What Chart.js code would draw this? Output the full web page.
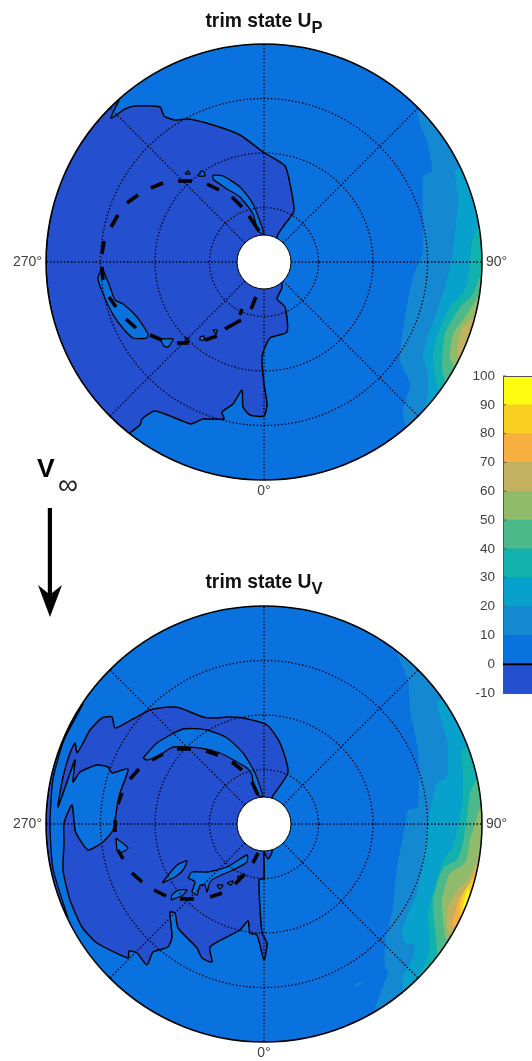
<!DOCTYPE html>
<html>
<head>
<meta charset="utf-8">
<title>trim state</title>
<script src="https://cdn.jsdelivr.net/npm/chart.js@4/dist/chart.umd.min.js"></script>
<style>
    html, body { margin: 0; padding: 0; background: #fff; width: 532px; height: 1061px; overflow: hidden; }
    body { position: relative; font-family: "Liberation Sans", Arial, sans-serif; }
    canvas { position: absolute; }
    .title { position: absolute; left: 0; width: 528px; text-align: center; font-weight: bold; font-size: 19.3px; color: #111; }
    .title sub { font-size: 16.5px; vertical-align: -6px; line-height: 0; }
    #vinf { position: absolute; left: 37px; top: 453px; font-weight: bold; font-size: 26.5px; color: #000; }
    #vinfSub { position: absolute; left: 58px; top: 469px; font-size: 28px; color: #222; }
    #arrow { position: absolute; left: 35px; top: 505px; }
</style>
</head>
<body>
<canvas id="polarUp" style="left:0;top:0"></canvas>
<canvas id="polarDown" style="left:0;top:562px"></canvas>
<canvas id="colorBar" style="left:459px;top:360px"></canvas>
<div class="title" style="top:10px">trim state U<sub>P</sub></div>
<div class="title" style="top:571px">trim state U<sub>V</sub></div>
<div id="vinf">V</div>
<div id="vinfSub">∞</div>
<svg id="arrow" width="30" height="115"><path d="M12.8 3 H17 V88 L27 80 L15 112 L3 80 L12.8 88 Z" fill="#000"/></svg>
<script>
// colour levels of the bar (lower limit, upper limit, colour)
var levelLow = [-10, 0, 10, 20, 30, 40, 50, 60, 70, 80, 90];
var levelHigh = [0, 10, 20, 30, 40, 50, 60, 70, 80, 90, 100];
var levelColors = ['#2450d0', '#0a72de', '#1588d2', '#07a1cb', '#13b1ad', '#4bb98a', '#8fbb6b', '#c2b15f', '#f7b03f', '#f9cf22', '#fefd10'];
var barTicks = [100, 90, 80, 70, 60, 50, 40, 30, 20, 10, 0, -10];

// polar grid: radius rings, spokes, angle labels
var rings = [54.5, 109, 163.5];
var outerRadius = 218;
var holeRadius = 27;
var spokes = [0, 45, 90, 135, 180, 225, 270, 315];
var angleLabels = ['0°', '90°', '270°'];

// contours, x to the right of the centre, y towards 0°
var upNegative = [[-133, 170], [-124, 163], [-122, 157], [-109, 149], [-84, 158], [-73, 162], [-61, 157], [-40, 157], [-42, 150], [-31, 142], [-22, 128], [-21, 145], [-14, 153], [0, 154], [3, 142], [0, 122], [-2, 95], [6, 76], [23, 70], [21, 45], [13, 37], [18, 25], [13, -25], [21, -38], [30, -51], [26, -78], [21, -96], [-1, -110], [-24, -127], [-51, -137], [-76, -143], [-89, -142], [-100, -146], [-104, -155], [-129, -156], [-139, -153], [-153, -144], [-145, -162]];
var upIslands = [
    [[-51, -87], [-41, -86], [-24, -75], [-11, -58], [0, -28], [-6, -31], [-11, -48], [-24, -65], [-37, -73], [-51, -83]],
    [[-79, -88], [-76, -91], [-74, -88]],
    [[-66, -86], [-63, -91], [-60, -90], [-59, -86]],
    [[-162, 5], [-166, 17], [-156, 43], [-146, 60], [-131, 76], [-117, 76], [-116, 72], [-127, 55], [-141, 42], [-149, 38], [-154, 25]],
    [[-104, 77], [-91, 77], [-96, 85], [-100, 84]],
    [[-64, 75], [-60, 74], [-60, 78], [-64, 78]],
    [[-51, 68], [-47, 68], [-48, 72]],
    [[-79, 76], [-75, 76], [-76, 80]]
];
var upDashes = [[-162, -8, -160, -21], [-153, -35, -146, -47], [-137, -59, -126, -67], [-113, -74, -101, -79], [-86, -81, -72, -81], [-57, -78, -45, -72], [-32, -65, -22, -55], [-15, -46, -5, -31], [-162, 5, -161, 18], [-155, 35, -148, 45], [-138, 57, -128, 66], [-114, 73, -102, 78], [-87, 81, -75, 81], [-59, 78, -47, 74], [-39, 67, -23, 58], [-24, 53, -22, 47], [-13, 47, -8, 35]];
var upLevel10 = [[153, -153], [156, -138], [163, -121], [168, -91], [159, -86], [159, -11], [149, 15], [141, 55], [136, 98], [146, 122], [139, 148], [141, 162], [141, 166]];
var upLevel20 = [[196, -96], [191, -91], [194, -61], [188, -5], [181, 25], [163, 78], [159, 95], [164, 112], [163, 138], [160, 148]];
var upLevel30 = [[215, -38], [208, -21], [206, 2], [201, 28], [186, 45], [173, 75], [169, 95], [173, 125], [178, 127]];
var upLevel40 = [[218, 8], [209, 32], [196, 45], [181, 72], [178, 105], [181, 119]];
var upLevel50 = [[214, 35], [203, 52], [189, 72], [186, 95], [190, 105]];
var upLevel60 = [[210, 55], [199, 65], [194, 82], [194, 95]];

var downNegative = [[8, -27], [24, -52], [16, -81], [3, -99], [-21, -106], [-37, -107], [-47, -106], [-61, -107], [-84, -116], [-94, -117], [-114, -114], [-131, -105], [-149, -96], [-152, -107], [-162, -106], [-174, -94], [-182, -79], [-187, -71], [-189, -81], [-194, -71], [-201, -47], [-206, -17], [-189, -64], [-191, -42], [-184, -52], [-167, -59], [-156, -57], [-152, -51], [-136, -55], [-144, -31], [-147, -17], [-151, 6], [-161, 18], [-176, 26], [-184, 16], [-189, 6], [-192, -19], [-200, -1], [-200, 19], [-201, 46], [-194, 76], [-182, 103], [-167, 119], [-136, 134], [-135, 127], [-127, 129], [-117, 141], [-111, 128], [-96, 123], [-92, 113], [-94, 88], [-89, 89], [-86, 104], [-67, 124], [-62, 134], [-52, 138], [-54, 123], [-24, 106], [-16, 97], [-14, 109], [-7, 111], [0, 136], [3, 119], [-2, 109], [-5, 56], [0, 54], [0, 28], [4, 35], [8, 28]];
var downRimSliver = [[-196, 94], [-211, 45], [-214, 0], [-211, -45], [-200, -84], [-181, -120]];
var downIslands = [
    [[-121, -66], [-107, -81], [-81, -95], [-57, -94], [-37, -86], [-21, -71], [-9, -51], [-1, -27], [-6, -29], [-11, -41], [-12, -49], [-17, -56], [-27, -62], [-44, -71], [-64, -76], [-91, -77], [-104, -69], [-117, -64]],
    [[-148, 14], [-136, 24], [-144, 29], [-147, 26]],
    [[-102, 59], [-87, 41], [-77, 37], [-81, 46], [-89, 53]],
    [[-93, 76], [-92, 71], [-86, 66], [-77, 66], [-81, 71]],
    [[-76, 54], [-72, 48], [-56, 48], [-37, 43], [-17, 31], [-17, 38], [-31, 46], [-47, 53], [-54, 58], [-57, 68], [-59, 61], [-64, 61], [-67, 71], [-72, 68], [-69, 58]],
    [[-47, 61], [-41, 61], [-44, 65]],
    [[-37, 59], [-31, 57], [-33, 61]],
    [[-27, 53], [-21, 51], [-24, 56]]
];
var downDashes = [[-149, 8, -149, -4], [-146, -20, -142, -31], [-134, -45, -125, -55], [-112, -64, -101, -70], [-87, -75, -73, -75], [-58, -73, -46, -69], [-32, -62, -22, -54], [-12, -42, -6, -29], [-146, 26, -141, 35], [-132, 49, -122, 58], [-110, 66, -98, 72], [-84, 75, -70, 75], [-54, 73, -42, 69], [-29, 60, -19, 50], [-11, 39, -6, 29]];
var downLevel10 = [[132, -173], [144, -144], [146, -114], [154, -74], [154, -17], [144, -14], [141, 3], [133, 43], [129, 83], [121, 119], [121, 143], [124, 149], [111, 184], [112, 187]];
var downLevel10Blob = [[89, 162], [94, 159], [99, 157], [93, 163]];
var downLevel20 = [[178, -126], [173, -121], [183, -84], [183, -47], [173, -41], [164, -1], [159, 36], [153, 69], [138, 106], [141, 119], [151, 121], [148, 136], [139, 153], [139, 168]];
var downLevel30 = [[204, -77], [198, -74], [199, -47], [198, -17], [189, 23], [181, 34], [173, 56], [164, 89], [166, 123], [163, 136], [153, 155]];
var downLevel40 = [[214, -47], [206, -31], [203, -7], [198, 23], [193, 36], [179, 44], [169, 76], [173, 123], [173, 132]];
var downLevel50 = [[218, -21], [213, -7], [206, 16], [201, 39], [186, 49], [178, 76], [181, 113], [184, 116]];
var downLevel60 = [[218, 16], [213, 36], [204, 56], [193, 66], [184, 83], [183, 103], [187, 112]];
var downLevel70 = [[214, 39], [206, 59], [196, 73], [191, 89], [188, 101], [192, 103]];
var downLevel80 = [[211, 53], [201, 66], [196, 79], [196, 89], [196, 95]];
var downLevel90 = [[204, 64], [201, 73], [199, 83], [200, 87]];

function toPoints(list) {
    return list.map(function (p) { return { x: p[0], y: p[1] }; });
}

// closes a contour that ends on the outer circle, walking along the circle
function withRim(list) {
    var first = list[0], last = list[list.length - 1];
    var a0 = Math.atan2(last[0], last[1]) * 180 / Math.PI;
    var a1 = Math.atan2(first[0], first[1]) * 180 / Math.PI;
    if (a0 < 0) a0 += 360;
    if (a1 < 0) a1 += 360;
    if (a1 < a0) a1 += 360;
    var out = list.slice();
    for (var a = a0; a < a1; a += 4) {
        out.push([outerRadius * Math.sin(a * Math.PI / 180), outerRadius * Math.cos(a * Math.PI / 180)]);
    }
    return out;
}

function closed(list) {
    return list.concat([list[0]]);
}

function shape(list, color, lineWidth) {
    return {
        data: toPoints(closed(list)),
        showLine: true,
        fill: 'shape',
        backgroundColor: color,
        borderColor: lineWidth ? '#000' : color,
        borderWidth: lineWidth || 0,
        pointRadius: 0,
        tension: 0.2,
        borderJoinStyle: 'round',
        clip: false
    };
}

function dashes(list) {
    var pts = [];
    list.forEach(function (d) {
        pts.push({ x: d[0], y: d[1] }, { x: d[2], y: d[3] }, { x: null, y: null });
    });
    return { data: pts, showLine: true, fill: false, borderColor: '#000', borderWidth: 3.6, pointRadius: 0, clip: false };
}

var polarGrid = {
    id: 'polarGrid',
    beforeDatasetsDraw: function (chart) {
        var ctx = chart.ctx, sx = chart.scales.x, sy = chart.scales.y;
        var cx = sx.getPixelForValue(0), cy = sy.getPixelForValue(0);
        var unit = sx.getPixelForValue(1) - cx;
        ctx.save();
        ctx.fillStyle = levelColors[1];
        ctx.beginPath();
        ctx.arc(cx, cy, outerRadius * unit, 0, Math.PI * 2);
        ctx.fill();
        // nothing leaves the disc, restored after the datasets
        ctx.clip();
    },
    afterDatasetsDraw: function (chart) {
        var ctx = chart.ctx, sx = chart.scales.x, sy = chart.scales.y;
        var cx = sx.getPixelForValue(0), cy = sy.getPixelForValue(0);
        var unit = sx.getPixelForValue(1) - cx;
        ctx.restore();
        ctx.save();
        ctx.strokeStyle = '#00001a';
        ctx.lineWidth = 1.3;
        ctx.setLineDash([1.5, 2]);
        rings.forEach(function (r) {
            ctx.beginPath();
            ctx.arc(cx, cy, r * unit, 0, Math.PI * 2);
            ctx.stroke();
        });
        spokes.forEach(function (a) {
            var s = Math.sin(a * Math.PI / 180), c = Math.cos(a * Math.PI / 180);
            ctx.beginPath();
            ctx.moveTo(cx + s * holeRadius * unit, cy + c * holeRadius * unit);
            ctx.lineTo(cx + s * outerRadius * unit, cy + c * outerRadius * unit);
            ctx.stroke();
        });
        ctx.setLineDash([]);
        ctx.strokeStyle = '#000';
        ctx.lineWidth = 1.5;
        ctx.beginPath();
        ctx.arc(cx, cy, outerRadius * unit, 0, Math.PI * 2);
        ctx.stroke();
        ctx.fillStyle = '#fff';
        ctx.lineWidth = 1;
        ctx.beginPath();
        ctx.arc(cx, cy, holeRadius * unit, 0, Math.PI * 2);
        ctx.fill();
        ctx.stroke();
        ctx.fillStyle = '#404040';
        ctx.font = '14px "Liberation Sans", Arial, sans-serif';
        ctx.textBaseline = 'middle';
        ctx.textAlign = 'center';
        ctx.fillText(angleLabels[0], cx, sy.getPixelForValue(outerRadius) + 11);
        ctx.textAlign = 'left';
        ctx.fillText(angleLabels[1], sx.getPixelForValue(outerRadius) + 4, cy);
        ctx.textAlign = 'right';
        ctx.fillText(angleLabels[2], sx.getPixelForValue(-outerRadius) - 4, cy);
        ctx.restore();
    }
};

function crearPolar(id, sets) {
    var canvas = document.getElementById(id);
    canvas.width = 532;
    canvas.height = 499;
    // first set listed is painted first
    sets.forEach(function (s, i) { s.order = sets.length - i; });
    return new Chart(canvas, {
        type: 'scatter',
        data: { datasets: sets },
        plugins: [polarGrid],
        options: {
            responsive: false,
            animation: false,
            layout: { padding: { left: 46, right: 50, top: 44, bottom: 19 } },
            plugins: { legend: { display: false }, tooltip: { enabled: false }, title: { display: false } },
            scales: {
                x: { type: 'linear', min: -outerRadius, max: outerRadius, display: false },
                y: { type: 'linear', min: -outerRadius, max: outerRadius, reverse: true, display: false }
            }
        }
    });
}

var upSets = [
    shape(withRim(upLevel10), levelColors[2]),
    shape(withRim(upLevel20), levelColors[3]),
    shape(withRim(upLevel30), levelColors[4]),
    shape(withRim(upLevel40), levelColors[5]),
    shape(withRim(upLevel50), levelColors[6]),
    shape(withRim(upLevel60), levelColors[7]),
    shape(withRim(upNegative), levelColors[0], 1.5)
];
upIslands.forEach(function (p) { upSets.push(shape(p, levelColors[1], 1.3)); });
upSets.push(dashes(upDashes));
crearPolar('polarUp', upSets);

var downSets = [
    shape(withRim(downLevel10), levelColors[2]),
    shape(downLevel10Blob, levelColors[2]),
    shape(withRim(downLevel20), levelColors[3]),
    shape(withRim(downLevel30), levelColors[4]),
    shape(withRim(downLevel40), levelColors[5]),
    shape(withRim(downLevel50), levelColors[6]),
    shape(withRim(downLevel60), levelColors[7]),
    shape(withRim(downLevel70), levelColors[8]),
    shape(withRim(downLevel80), levelColors[9]),
    shape(withRim(downLevel90), levelColors[10]),
    shape(downNegative, levelColors[0], 1.5),
    shape(withRim(downRimSliver), levelColors[0], 1.3)
];
downIslands.forEach(function (p) { downSets.push(shape(p, levelColors[1], 1.3)); });
downSets.push(dashes(downDashes));
crearPolar('polarDown', downSets);

// colour bar, one floating bar per level
var barFrame = {
    id: 'barFrame',
    afterDatasetsDraw: function (chart) {
        var ctx = chart.ctx, area = chart.chartArea, sy = chart.scales.y;
        ctx.save();
        ctx.strokeStyle = '#555';
        ctx.lineWidth = 1;
        ctx.strokeRect(area.left + 0.5, area.top + 0.5, area.width, area.height);
        barTicks.forEach(function (t) {
            var y = sy.getPixelForValue(t);
            ctx.beginPath();
            ctx.moveTo(area.left, y);
            ctx.lineTo(area.left + 3, y);
            ctx.stroke();
        });
        var z = sy.getPixelForValue(0);
        ctx.strokeStyle = '#000';
        ctx.lineWidth = 2;
        ctx.beginPath();
        ctx.moveTo(area.left, z);
        ctx.lineTo(area.right, z);
        ctx.stroke();
        ctx.restore();
    }
};

var barCanvas = document.getElementById('colorBar');
barCanvas.width = 90;
barCanvas.height = 350;
new Chart(barCanvas, {
    type: 'bar',
    data: {
        labels: [''],
        datasets: levelLow.map(function (low, i) {
            return { data: [[low, levelHigh[i]]], backgroundColor: levelColors[i], barPercentage: 1, categoryPercentage: 1, grouped: false };
        })
    },
    plugins: [barFrame],
    options: {
        responsive: false,
        animation: false,
        layout: { padding: { top: 16, bottom: 17 } },
        plugins: { legend: { display: false }, tooltip: { enabled: false } },
        scales: {
            x: { display: false },
            y: {
                min: -10,
                max: 100,
                afterFit: function (s) { s.width = 44; },
                afterBuildTicks: function (s) { s.ticks = barTicks.map(function (v) { return { value: v }; }); },
                grid: { display: false },
                border: { display: false },
                ticks: { color: '#404040', padding: 0, font: { family: '"Liberation Sans", Arial, sans-serif', size: 13.5 } }
            }
        }
    }
});
</script>
</body>
</html>
